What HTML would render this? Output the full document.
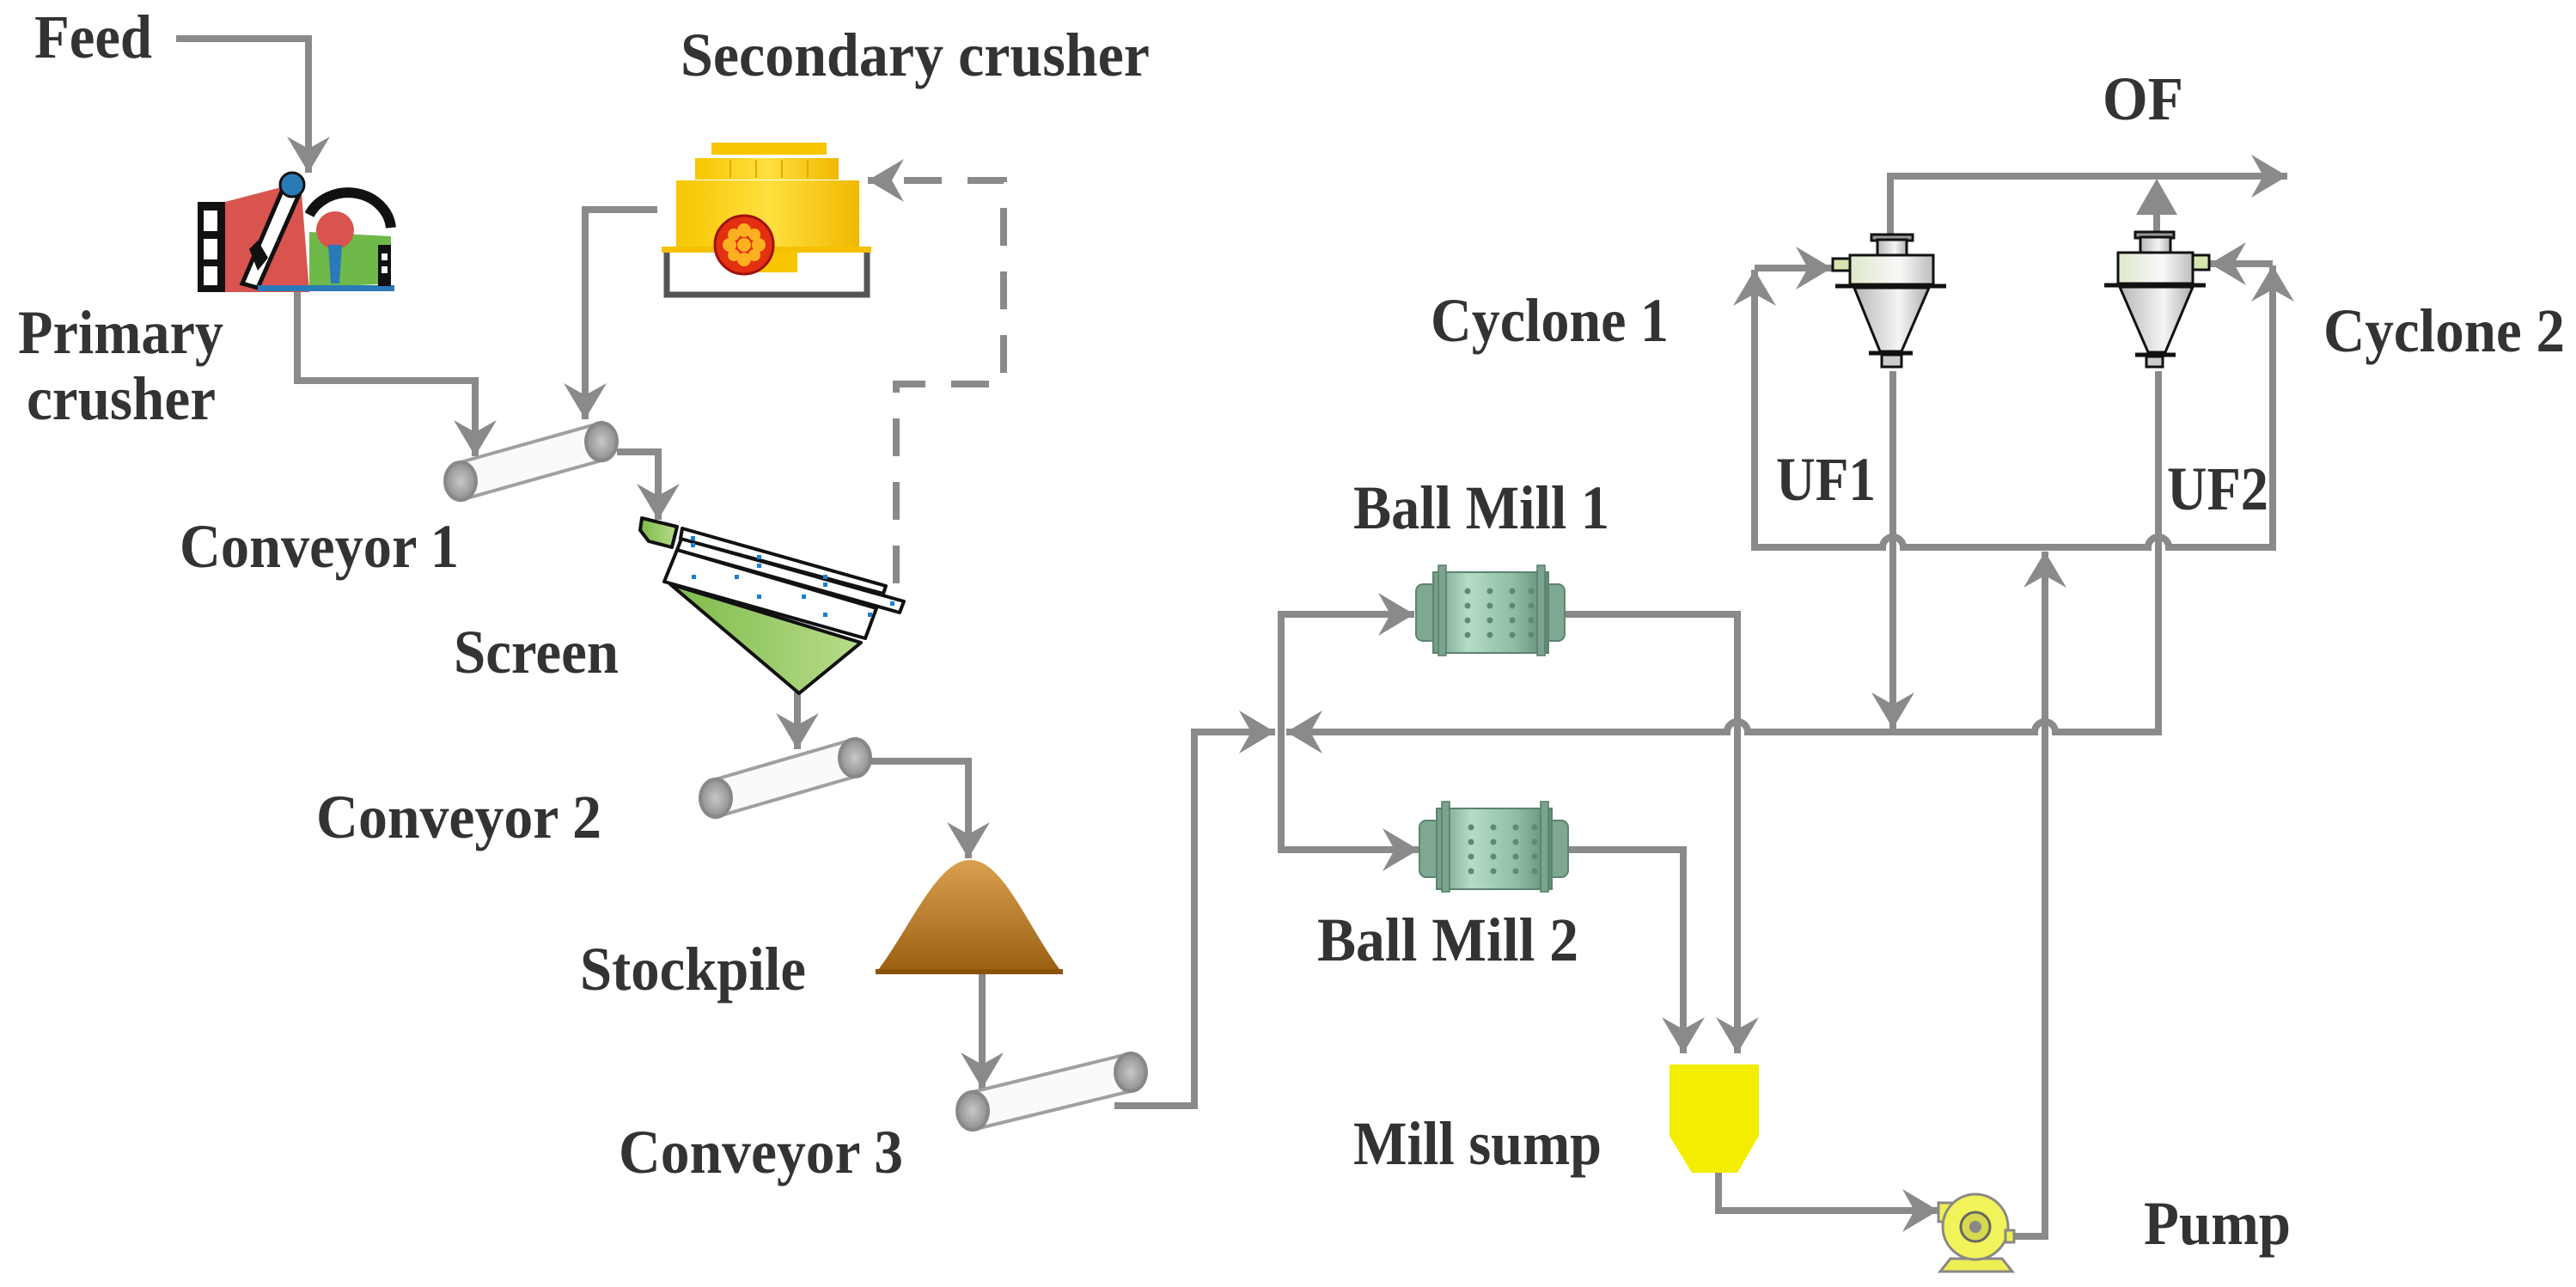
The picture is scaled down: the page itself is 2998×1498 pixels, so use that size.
<!DOCTYPE html>
<html><head><meta charset="utf-8"><style>
html,body{margin:0;padding:0;background:#fff;}
svg{display:block;}
text{font-family:"Liberation Serif",serif;font-weight:bold;fill:#333;font-size:72px;}
</style></head><body>
<svg width="2998" height="1498" viewBox="0 0 2998 1498" xmlns="http://www.w3.org/2000/svg">
<defs>
<marker id="ar" markerUnits="userSpaceOnUse" markerWidth="60" markerHeight="60" refX="0" refY="0" viewBox="-45 -30 50 60" orient="auto" overflow="visible">
<path d="M0,0 L-42,-25 L-28,0 L-42,25 Z" fill="#8a8a8a"/>
</marker>
<linearGradient id="yel" x1="0" x2="1"><stop offset="0" stop-color="#f7c600"/><stop offset=".5" stop-color="#ffe040"/><stop offset="1" stop-color="#f0b800"/></linearGradient>
<linearGradient id="gry" x1="0" x2="1"><stop offset="0" stop-color="#b8b8b8"/><stop offset=".6" stop-color="#f4f4f4"/><stop offset="1" stop-color="#b0b0b0"/></linearGradient>
<linearGradient id="cyb" x1="0" x2="1"><stop offset="0" stop-color="#dfe8cc"/><stop offset=".6" stop-color="#f8f8f8"/><stop offset="1" stop-color="#bdbdbd"/></linearGradient>
<linearGradient id="grn" x1="0" x2="1"><stop offset="0" stop-color="#7dbb4a"/><stop offset="1" stop-color="#b8dc8a"/></linearGradient>
<linearGradient id="mill" x1="0" x2="1"><stop offset="0" stop-color="#6f9c84"/><stop offset=".3" stop-color="#b5dcc6"/><stop offset=".7" stop-color="#8fbca4"/><stop offset="1" stop-color="#5f8a74"/></linearGradient>
<linearGradient id="pile" x1="0" y1="0" x2="0" y2="1"><stop offset="0" stop-color="#d9a050"/><stop offset="1" stop-color="#9a5f10"/></linearGradient>
<radialGradient id="roll"><stop offset="0" stop-color="#c8c8c8"/><stop offset="1" stop-color="#8f8f8f"/></radialGradient>
</defs>

<text x="40" y="67" textLength="137" lengthAdjust="spacingAndGlyphs">Feed</text>
<text x="792" y="88" textLength="546" lengthAdjust="spacingAndGlyphs">Secondary crusher</text>
<text x="21" y="411" textLength="239" lengthAdjust="spacingAndGlyphs">Primary</text>
<text x="31" y="488" textLength="220" lengthAdjust="spacingAndGlyphs">crusher</text>
<text x="209" y="660" textLength="325" lengthAdjust="spacingAndGlyphs">Conveyor 1</text>
<text x="528" y="783" textLength="192" lengthAdjust="spacingAndGlyphs">Screen</text>
<text x="368" y="975" textLength="332" lengthAdjust="spacingAndGlyphs">Conveyor 2</text>
<text x="675" y="1152" textLength="263" lengthAdjust="spacingAndGlyphs">Stockpile</text>
<text x="720" y="1365" textLength="331" lengthAdjust="spacingAndGlyphs">Conveyor 3</text>
<text x="1575" y="615" textLength="298" lengthAdjust="spacingAndGlyphs">Ball Mill 1</text>
<text x="1533" y="1118" textLength="304" lengthAdjust="spacingAndGlyphs">Ball Mill 2</text>
<text x="1575" y="1355" textLength="289" lengthAdjust="spacingAndGlyphs">Mill sump</text>
<text x="2495" y="1448" textLength="171" lengthAdjust="spacingAndGlyphs">Pump</text>
<text x="2447" y="139" textLength="94" lengthAdjust="spacingAndGlyphs">OF</text>
<text x="1665" y="397" textLength="277" lengthAdjust="spacingAndGlyphs">Cyclone 1</text>
<text x="2704" y="409" textLength="281" lengthAdjust="spacingAndGlyphs">Cyclone 2</text>
<text x="2067" y="582" textLength="116" lengthAdjust="spacingAndGlyphs">UF1</text>
<text x="2522" y="593" textLength="118" lengthAdjust="spacingAndGlyphs">UF2</text>

<g fill="none" stroke="#8a8a8a" stroke-width="8" marker-end="url(#ar)">
<path d="M205,45 H359 V201"/>
<path d="M346,340 V443 H553 V531"/>
<path d="M765,244 H681 V488"/>
<path d="M718,526 H766 V605"/>
<path d="M1043,679 V447 H1168 V210 H1010" stroke-dasharray="44 30"/>
<path d="M928,805 V872"/>
<path d="M1014,886 H1127 V999"/>
<path d="M1143,1133 V1267"/>
<path d="M1297,1287 H1390 V852 H1484"/>
<path d="M1491,852 V715 H1646"/>
<path d="M1491,852 V989 H1651"/>
<path d="M1821,715 H2022 V1226"/>
<path d="M1821,989 H1959 V1226"/>
<path d="M2512,432 V852 H2392 A12,12 0 0 0 2368,852 H2034 A12,12 0 0 0 2010,852 H1497"/>
<path d="M2203,432 V848"/>
<path d="M2380,637 H2215 A12,12 0 0 0 2191,637 H2042 V314"/>
<path d="M2042,312 H2132"/>
<path d="M2380,637 H2500 A12,12 0 0 1 2524,637 H2645 V309"/>
<path d="M2645,307 H2572"/>
<path d="M2342,1439 H2380 V642"/>
<path d="M2000,1365 V1409 H2256"/>
<path d="M2200,273 V205 H2662"/>
</g>
<path d="M2510,270 V240" stroke="#8a8a8a" stroke-width="8"/>
<polygon points="2486,250 2534,250 2510,208" fill="#8a8a8a"/>

<g>
<polygon points="262,235 350,212 360,340 262,340" fill="#d9534f"/>
<polygon points="360,270 455,275 455,330 360,335" fill="#6fb84a"/>
<path d="M360,250 A50,45 0 0 1 455,265" fill="none" stroke="#111" stroke-width="12"/>
<rect x="230" y="235" width="32" height="105" fill="#111"/>
<rect x="237" y="245" width="16" height="24" fill="#fff"/>
<rect x="237" y="278" width="16" height="24" fill="#fff"/>
<rect x="237" y="310" width="16" height="22" fill="#fff"/>
<polygon points="330,218 350,222 300,335 282,330" fill="#fff" stroke="#111" stroke-width="5"/>
<circle cx="340" cy="215" r="14" fill="#2a7ab8" stroke="#111" stroke-width="3"/>
<circle cx="390" cy="268" r="22" fill="#d9534f"/>
<polygon points="382,285 398,285 395,330 385,330" fill="#2a7ab8"/>
<rect x="300" y="332" width="159" height="7" fill="#2a7ab8"/>
<rect x="440" y="285" width="15" height="48" fill="#111"/>
<rect x="444" y="295" width="7" height="8" fill="#fff"/>
<rect x="444" y="310" width="7" height="8" fill="#fff"/>
<polygon points="290,290 300,280 312,300 300,315" fill="#111"/>
</g>

<g>
<path d="M776,293 V343 H1009 V293" fill="none" stroke="#555" stroke-width="7"/>
<rect x="828" y="166" width="134" height="14" fill="#f7c600"/>
<rect x="809" y="184" width="167" height="25" fill="url(#yel)"/>
<g stroke="#e0a800" stroke-width="2"><line x1="850" y1="186" x2="850" y2="207"/><line x1="880" y1="186" x2="880" y2="207"/><line x1="910" y1="186" x2="910" y2="207"/><line x1="940" y1="186" x2="940" y2="207"/></g>
<rect x="787" y="210" width="213" height="78" fill="url(#yel)"/>
<rect x="770" y="287" width="244" height="7" fill="#f5c000"/>
<rect x="861" y="293" width="67" height="24" fill="#f7c600"/>
<circle cx="866" cy="285" r="34" fill="#e23010" stroke="#a01010" stroke-width="3"/>
<g fill="#ffb020"><circle cx="866" cy="268" r="8"/><circle cx="866" cy="302" r="8"/><circle cx="849" cy="285" r="8"/><circle cx="883" cy="285" r="8"/><circle cx="854" cy="273" r="7"/><circle cx="878" cy="297" r="7"/><circle cx="878" cy="273" r="7"/><circle cx="854" cy="297" r="7"/><circle cx="866" cy="285" r="8"/></g>
</g>

<g>
<polygon points="536,538 700,492 700,536 536,582" fill="#fafafa" stroke="#a0a0a0" stroke-width="4"/>
<ellipse cx="700" cy="514" rx="18" ry="22" fill="url(#roll)" stroke="#888" stroke-width="4"/>
<ellipse cx="536" cy="560" rx="18" ry="22" fill="url(#roll)" stroke="#888" stroke-width="4"/>
<polygon points="833,907 995,860 995,904 833,951" fill="#fafafa" stroke="#a0a0a0" stroke-width="4"/>
<ellipse cx="995" cy="882" rx="18" ry="22" fill="url(#roll)" stroke="#888" stroke-width="4"/>
<ellipse cx="833" cy="929" rx="18" ry="22" fill="url(#roll)" stroke="#888" stroke-width="4"/>
<polygon points="1132,1271 1316,1226 1316,1270 1132,1315" fill="#fafafa" stroke="#a0a0a0" stroke-width="4"/>
<ellipse cx="1316" cy="1248" rx="18" ry="22" fill="url(#roll)" stroke="#888" stroke-width="4"/>
<ellipse cx="1132" cy="1293" rx="18" ry="22" fill="url(#roll)" stroke="#888" stroke-width="4"/>
</g>

<g stroke="#111" stroke-width="4" stroke-linejoin="round">
<polygon points="747,603 788,613 782,637 755,630 745,617" fill="url(#grn)"/>
<polygon points="780,680 1002,748 930,807" fill="url(#grn)"/>
<polygon points="788,640 773,677 1007,743 1020,708" fill="#fff"/>
<polygon points="793,627 1052,700 1047,713 788,640" fill="#fff"/>
<polygon points="794,615 1031,682 1028,691 792,627" fill="#fff"/>
</g>
<g fill="#1a7fd0">
<rect x="804" y="624" width="5" height="5"/><rect x="804" y="632" width="5" height="5"/><rect x="881" y="646" width="5" height="5"/><rect x="881" y="656" width="5" height="5"/>
<rect x="958" y="669" width="5" height="5"/><rect x="958" y="678" width="5" height="5"/><rect x="1036" y="700" width="5" height="5"/>
<rect x="805" y="669" width="5" height="5"/><rect x="855" y="669" width="5" height="5"/><rect x="881" y="692" width="5" height="5"/><rect x="933" y="692" width="5" height="5"/><rect x="958" y="713" width="5" height="5"/><rect x="1010" y="713" width="5" height="5"/>
</g>

<path d="M1019,1133 C1060,1080 1090,1001 1129,1001 C1168,1001 1196,1080 1237,1133 Z" fill="url(#pile)"/>
<rect x="1019" y="1128" width="218" height="6" fill="#8a5208"/>

<g id="bm1">
<rect x="1648" y="680" width="24" height="66" rx="8" fill="#7fa892" stroke="#5c8470" stroke-width="2"/>
<rect x="1797" y="680" width="24" height="66" rx="8" fill="#7fa892" stroke="#5c8470" stroke-width="2"/>
<rect x="1668" y="666" width="134" height="94" fill="url(#mill)" stroke="#5c8470" stroke-width="2"/>
<rect x="1674" y="658" width="9" height="105" fill="#7aa48e" stroke="#557d69" stroke-width="1.5"/>
<rect x="1789" y="658" width="9" height="105" fill="#7aa48e" stroke="#557d69" stroke-width="1.5"/>
<g fill="#5d8a72"><circle cx="1708" cy="688" r="3.5"/><circle cx="1734" cy="688" r="3.5"/><circle cx="1760" cy="688" r="3.5"/><circle cx="1782" cy="688" r="3.5"/>
<circle cx="1708" cy="705" r="3.5"/><circle cx="1734" cy="705" r="3.5"/><circle cx="1760" cy="705" r="3.5"/><circle cx="1782" cy="705" r="3.5"/>
<circle cx="1708" cy="722" r="3.5"/><circle cx="1734" cy="722" r="3.5"/><circle cx="1760" cy="722" r="3.5"/><circle cx="1782" cy="722" r="3.5"/>
<circle cx="1708" cy="739" r="3.5"/><circle cx="1734" cy="739" r="3.5"/><circle cx="1760" cy="739" r="3.5"/><circle cx="1782" cy="739" r="3.5"/></g>
</g>
<use href="#bm1" transform="translate(4,275)"/>

<polygon points="1943,1239 2047,1239 2047,1322 2022,1365 1969,1365 1943,1322" fill="#f3ee00"/>

<g stroke="#888" stroke-width="3">
<polygon points="2270,1465 2330,1465 2342,1480 2258,1480" fill="#eeee55"/>
<rect x="2256" y="1400" width="16" height="22" fill="#eeee55"/>
<circle cx="2299" cy="1428" r="38" fill="#f2f25a"/>
<circle cx="2299" cy="1428" r="17" fill="#d8d850" stroke="#666"/>
<circle cx="2299" cy="1428" r="7" fill="#888" stroke="none"/>
<rect x="2334" y="1432" width="10" height="14" fill="#eeee55"/>
</g>

<g stroke="#111" stroke-width="3">
<rect x="2133" y="301" width="20" height="14" fill="#d6e6b0"/>
<rect x="2178" y="273" width="48" height="7" fill="#999"/>
<rect x="2185" y="279" width="34" height="18" fill="url(#gry)"/>
<rect x="2153" y="297" width="97" height="34" fill="url(#cyb)"/>
<polygon points="2158,335 2245,335 2213,409 2188,409" fill="url(#gry)"/>
<line x1="2136" y1="333" x2="2265" y2="333" stroke-width="5"/>
<line x1="2175" y1="411" x2="2226" y2="411" stroke-width="5"/>
<rect x="2190" y="413" width="23" height="14" fill="#ccc"/>
<rect x="2552" y="297" width="19" height="17" fill="#d6e6b0"/>
<rect x="2485" y="270" width="45" height="7" fill="#999"/>
<rect x="2491" y="276" width="35" height="18" fill="url(#gry)"/>
<rect x="2465" y="294" width="87" height="36" fill="url(#cyb)"/>
<polygon points="2467,334 2552,334 2520,410 2500,410" fill="url(#gry)"/>
<line x1="2449" y1="332" x2="2567" y2="332" stroke-width="5"/>
<line x1="2485" y1="413" x2="2532" y2="413" stroke-width="5"/>
<rect x="2498" y="415" width="19" height="12" fill="#ccc"/>
</g>
</svg>
</body></html>
